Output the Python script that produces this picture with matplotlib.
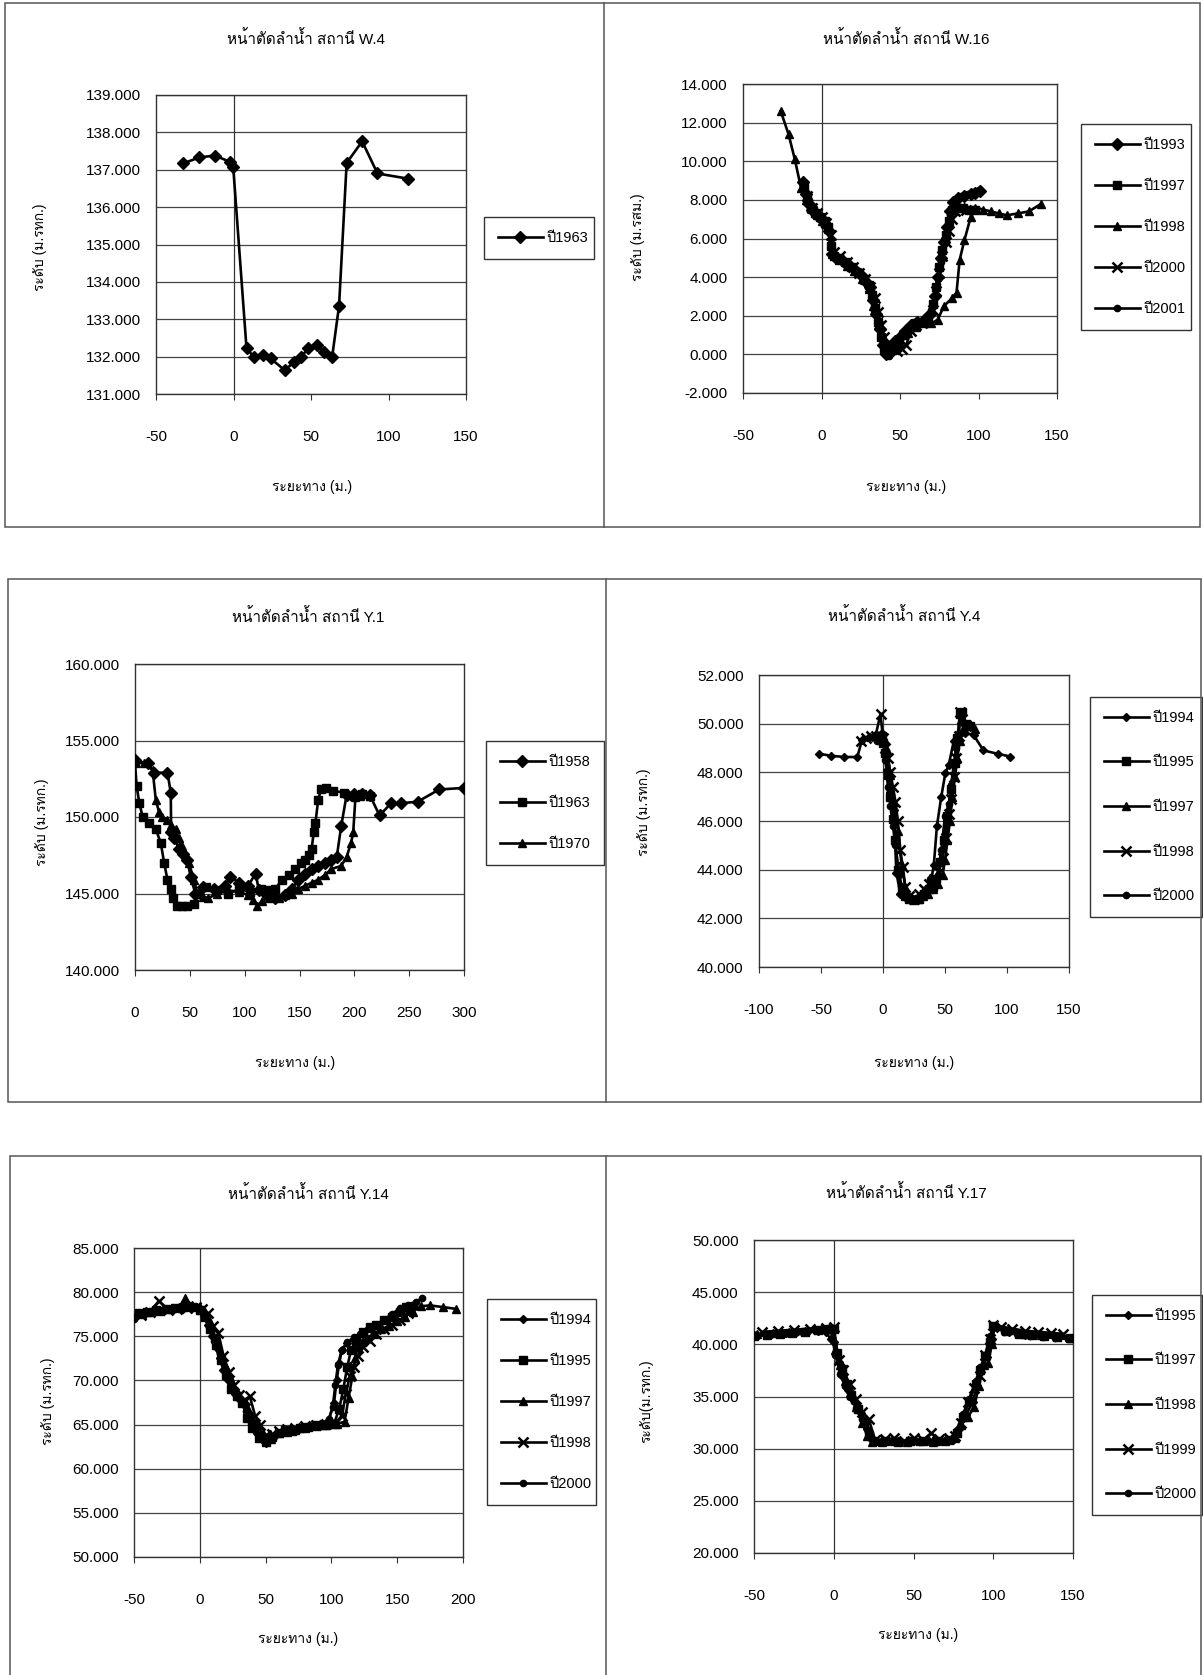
import numpy as np
import matplotlib
matplotlib.use('Agg')
import matplotlib.pyplot as plt
from matplotlib import font_manager
from matplotlib.ft2font import FT2Font
from matplotlib.patches import Rectangle
from matplotlib.lines import Line2D

W, H = 1203, 1675

# ---- data ----
# W.4
w4_1963_x = [-32.5, -22, -12, -2.2, -0.2, 8.4, 13.4, 18.9, 23.9, 33.3, 38.8, 43.7, 48.2, 53.7, 58.6, 63.6, 68.1, 73.0, 83.0, 92.9, 112.8]
w4_1963_y = [137.17, 137.33, 137.38, 137.21, 137.08, 132.22, 131.98, 132.04, 131.95, 131.63, 131.86, 132.00, 132.22, 132.31, 132.12, 131.98, 133.36, 137.18, 137.76, 136.90, 136.76]

# W.16
w16_1993_x = [-12, -10, -8, -6, -3, 0, 3, 5, 7, 9, 13, 17, 21, 25, 28, 31, 33, 35, 37, 39, 41, 44, 47, 50, 53, 57, 61, 65, 69, 72, 74, 76, 78, 80, 82, 84, 87, 91, 95, 98, 101]
w16_1993_y = [8.9, 8.3, 7.8, 7.5, 7.2, 7.0, 6.7, 6.4, 5.2, 5.0, 4.9, 4.7, 4.4, 4.1, 3.8, 3.5, 2.8, 2.1, 1.3, 0.5, 0.0, 0.4, 0.7, 0.9, 1.2, 1.5, 1.7, 1.8, 2.1, 3.0, 4.0, 5.0, 5.8, 6.6, 7.4, 7.9, 8.1, 8.2, 8.3, 8.35, 8.45]
w16_1997_x = [-11, -9, -7, -4, -1, 2, 4, 6, 8, 11, 15, 19, 23, 27, 30, 32, 34, 36, 38, 40, 43, 46, 49, 52, 56, 60, 64, 68, 71, 73, 75, 77, 79, 81, 83, 86, 90, 94, 98]
w16_1997_y = [8.6, 8.1, 7.6, 7.3, 7.1, 6.9, 6.6, 5.6, 5.1, 5.0, 4.8, 4.5, 4.2, 3.9, 3.6, 3.1, 2.4, 1.7, 0.9, 0.3, 0.2, 0.5, 0.6, 1.0, 1.3, 1.6, 1.7, 1.9, 2.6, 3.5, 4.5, 5.4, 6.2, 6.9, 7.5, 7.6, 7.6, 7.5, 7.5]
w16_1998_x = [-26, -21, -17, -13, -10, -7, -3, 0, 4, 7, 11, 16, 21, 26, 30, 33, 36, 39, 42, 46, 50, 55, 60, 65, 70, 74, 78, 83, 86, 88, 91, 95, 98, 103, 108, 113, 118, 125, 132, 140]
w16_1998_y = [12.6, 11.4, 10.1, 8.6, 8.0, 7.6, 7.2, 6.9, 6.5, 5.2, 4.9, 4.6, 4.3, 3.9, 3.4, 2.5, 1.5, 0.7, 0.3, 0.5, 0.6, 1.1, 1.4, 1.6, 1.6, 1.8, 2.5, 2.9, 3.2, 4.9, 5.9, 7.1, 7.6, 7.5, 7.4, 7.3, 7.2, 7.3, 7.4, 7.8]
w16_2000_x = [-12, -9, -6, -3, 0, 3, 6, 8, 12, 16, 20, 24, 28, 31, 34, 36, 38, 40, 42, 45, 48, 51, 54, 57, 60, 64, 68, 71, 73, 75, 77, 79, 81, 83, 85, 88, 92]
w16_2000_y = [8.7, 8.2, 7.6, 7.3, 7.1, 6.8, 6.2, 5.3, 5.1, 4.8, 4.5, 4.2, 3.9, 3.5, 2.9, 2.2, 1.5, 0.9, 0.5, 0.3, 0.2, 0.3, 0.5, 1.2, 1.5, 1.6, 1.8, 2.3, 3.3, 4.2, 5.1, 5.8, 6.4, 7.0, 7.4, 7.6, 7.5]
w16_2001_x = [-11, -8, -5, -2, 1, 4, 6, 8, 12, 16, 20, 24, 27, 30, 33, 35, 37, 39, 41, 43, 46, 49, 52, 55, 59, 63, 67, 70, 72, 74, 76, 78, 80, 82, 84, 86, 89, 93, 97, 100]
w16_2001_y = [8.8, 8.0, 7.6, 7.3, 7.0, 6.7, 6.0, 5.2, 5.0, 4.8, 4.5, 4.3, 3.9, 3.6, 3.0, 2.3, 1.6, 0.8, 0.1, -0.1, 0.5, 0.8, 1.1, 1.4, 1.6, 1.7, 1.9, 2.3, 3.0, 3.9, 4.8, 5.7, 6.5, 7.2, 7.6, 8.0, 8.2, 8.3, 8.4, 8.5]

# Y.1
y1_1958_x = [0, 11.5, 17.5, 29.6, 32.6, 33, 36, 40, 44, 47.7, 50.7, 55, 62, 72, 82, 87, 95, 103, 110, 113, 120, 128, 137, 143, 149, 155, 161, 167, 173, 179, 184, 188, 193, 200, 207, 214, 223, 233.5, 242.6, 257.7, 277.5, 300]
y1_1958_y = [153.7, 153.5, 152.9, 152.9, 151.6, 149.0, 148.6, 147.9, 147.6, 147.2, 146.1, 145.0, 145.4, 145.3, 145.5, 146.1, 145.7, 145.5, 146.3, 145.2, 144.9, 144.7, 144.9, 145.3, 145.9, 146.3, 146.6, 146.8, 147.0, 147.2, 147.4, 149.4, 151.45, 151.5, 151.5, 151.45, 150.1, 150.9, 150.9, 151.0, 151.8, 151.9]
y1_1963_x = [0, 1.5, 4, 7, 13, 19, 23.5, 26.6, 29.6, 32.6, 35, 38.7, 43, 47.7, 53.8, 58.3, 65, 75, 85, 95, 105, 115, 122, 128, 134, 140, 146, 151, 155, 159, 161, 163, 164.5, 167, 169.5, 174.6, 180.7, 191, 200, 207, 214]
y1_1963_y = [153.5, 152.0, 150.9, 150.0, 149.6, 149.2, 148.3, 147.0, 145.9, 145.3, 144.7, 144.2, 144.2, 144.2, 144.3, 145.0, 145.4, 145.2, 145.0, 145.3, 145.1, 145.3, 145.2, 145.3, 145.9, 146.2, 146.6, 147.0, 147.2, 147.5, 147.9, 149.0, 149.6, 151.1, 151.8, 151.9, 151.7, 151.6, 151.4, 151.5, 151.4]
y1_1970_x = [0, 8.5, 16, 19, 22, 25, 29.6, 33, 37, 40, 43, 46, 49, 53.8, 56.8, 62, 67, 75, 85, 95, 103, 108, 111, 116, 122, 131, 137, 143, 149, 155, 161, 167, 173, 179, 188, 193, 197, 199, 201, 205, 210, 214]
y1_1970_y = [153.6, 153.5, 153.1, 151.1, 150.3, 150.0, 149.8, 149.5, 149.2, 148.6, 148.1, 147.6, 147.0, 145.9, 145.0, 144.8, 144.7, 145.0, 145.2, 145.1, 144.9, 144.6, 144.2, 144.5, 144.7, 144.7, 144.9, 145.0, 145.3, 145.5, 145.7, 145.9, 146.2, 146.6, 146.8, 147.4, 148.3, 149.0, 151.3, 151.4, 151.5, 151.4]

# Y.4
y4_1994_x = [-51.3, -41.7, -31.2, -20.7, -16.9, -11.6, -4.8, -0.8, 1.9, 3.2, 5.9, 8.6, 10.8, 14, 18, 22, 26, 30, 34, 38, 41, 43.5, 47, 50.3, 53, 57, 61, 66.4, 73, 81, 92.7, 102.7]
y4_1994_y = [48.76, 48.68, 48.63, 48.63, 49.34, 49.47, 49.54, 49.6, 49.2, 48.1, 47.2, 46.47, 43.87, 43.0, 42.9, 42.8, 42.8, 42.9, 43.0, 43.3, 44.2, 45.8, 47.0, 47.97, 48.3, 49.27, 49.54, 49.6, 49.54, 48.9, 48.76, 48.65]
y4_1995_x = [-4, -1, 0, 2, 4, 6, 8, 10, 12, 15, 18, 21, 25, 29, 33, 37, 40, 43, 46, 49, 52, 55, 58, 60, 62, 64, 67, 70]
y4_1995_y = [49.4, 49.5, 49.2, 48.8, 47.9, 47.0, 46.1, 45.2, 44.0, 43.2, 42.9, 42.8, 42.75, 42.8, 43.0, 43.2, 43.3, 43.6, 44.3, 45.2, 46.2, 47.3, 48.4, 49.4, 50.4, 50.5, 50.0, 49.9]
y4_1997_x = [-3, 0, 3, 6, 9, 12, 15, 18, 21, 24, 28, 32, 36, 40, 44, 48, 50, 52, 54, 56, 58, 60, 62, 64, 67, 70, 74]
y4_1997_y = [49.4, 49.3, 48.9, 47.9, 46.8, 45.6, 44.2, 43.3, 42.9, 42.8, 42.8, 42.9, 43.0, 43.2, 43.4, 43.8, 44.4, 45.2, 46.0, 47.0, 47.8, 48.6, 49.3, 49.7, 50.0, 50.0, 49.8]
y4_1998_x = [-18, -14, -10, -6, -2, 0, 2, 4, 6, 8, 10, 12, 14, 16, 18, 21, 25, 29, 33, 37, 41, 45, 48, 51, 53, 55, 57, 59, 61, 62, 64, 67]
y4_1998_y = [49.3, 49.4, 49.5, 49.5, 50.4, 49.4, 49.0, 48.6, 48.0, 47.4, 46.8, 46.0, 44.8, 44.1, 43.3, 42.9, 42.8, 43.0, 43.2, 43.4, 43.6, 43.9, 44.5, 45.3, 46.3, 46.9, 47.8, 48.6, 49.5, 50.5, 50.2, 49.9]
y4_2000_x = [-5, -2, 0, 2, 4, 6, 8, 10, 13, 16, 20, 24, 28, 32, 35, 38, 41, 44, 47, 50, 53, 55, 57, 59, 61, 63, 65]
y4_2000_y = [49.3, 49.5, 49.3, 48.5, 47.4, 46.6, 45.8, 45.0, 43.8, 43.1, 42.8, 42.8, 42.85, 43.0, 43.2, 43.6, 43.3, 43.8, 44.8, 46.2, 46.7, 47.5, 48.3, 49.0, 49.6, 50.5, 50.0]

# Y.14
y14_1994_x = [-49, -42, -35, -28, -21, -14, -7, 0, 3, 6, 9, 12, 15, 18, 21, 24, 27, 30, 34, 38, 42, 46, 50, 55, 60, 66, 72, 78, 85, 92, 98, 102, 104, 106, 108, 112, 118, 124, 130, 136, 142, 148, 153, 158, 162]
y14_1994_y = [77.2, 77.6, 77.9, 78.0, 78.1, 78.2, 78.3, 78.0, 77.4, 76.3, 75.0, 73.8, 72.5, 71.2, 70.2, 69.2, 68.5, 67.9, 67.2, 66.0, 64.8, 63.6, 62.9, 63.5, 64.0, 64.3, 64.4, 64.6, 64.8, 65.0, 65.5, 67.5, 70.0, 72.0, 73.5, 74.2, 74.8, 75.3, 75.8, 76.2, 76.8, 77.4, 77.9, 78.2, 78.4]
y14_1995_x = [-46, -40, -33, -26, -19, -12, -5, 0, 4, 8, 12, 16, 20, 24, 28, 32, 36, 40, 45, 50, 55, 60, 65, 70, 76, 82, 88, 95, 102, 106, 109, 112, 115, 119, 124, 129, 134, 140, 146, 152, 157]
y14_1995_y = [77.6, 77.8, 78.0, 78.1, 78.2, 78.3, 78.3, 78.0, 77.2, 75.8, 74.0, 72.3, 70.6, 69.0, 68.2, 67.5, 65.8, 64.6, 63.5, 63.0, 63.6, 64.1, 64.4, 64.3, 64.6, 64.7, 64.9, 65.0, 65.1, 66.8, 69.0, 71.5, 73.5, 74.5, 75.5, 76.0, 76.3, 76.8, 77.2, 77.8, 78.3]
y14_1997_x = [-44, -37, -30, -23, -16, -11, -6, 0, 4, 8, 12, 16, 20, 24, 28, 32, 36, 40, 44, 48, 54, 60, 66, 72, 80, 88, 96, 104, 110, 113, 116, 118, 120, 123, 127, 132, 138, 144, 150, 156, 162, 168, 175, 185, 195]
y14_1997_y = [77.5, 77.7, 77.9, 78.1, 78.3, 79.3, 78.5, 78.3, 77.8, 76.6, 74.8, 73.0, 71.5, 70.0, 68.8, 67.8, 67.0, 65.8, 64.6, 63.8, 63.4, 64.0, 64.2, 64.4, 64.6, 64.8, 65.0, 65.1, 65.3, 68.0, 70.5, 72.5, 73.8, 74.3, 74.8, 75.3, 75.8, 76.2, 76.7, 77.2, 77.8, 78.4, 78.5, 78.3, 78.1]
y14_1998_x = [-45, -38, -31, -24, -17, -10, -3, 2, 6, 10, 14, 18, 22, 26, 30, 34, 38, 42, 46, 50, 55, 60, 66, 72, 80, 88, 96, 103, 108, 111, 114, 117, 120, 124, 129, 134, 140, 146, 152, 158]
y14_1998_y = [77.4, 77.8, 79.0, 78.0, 78.1, 78.2, 78.3, 78.1, 77.6, 76.2, 75.4, 72.8, 71.0, 69.5, 68.4, 67.8, 68.2, 66.0, 65.0, 63.8, 63.9, 64.3, 64.5, 64.6, 64.8, 64.9, 65.1, 65.2, 66.0, 68.5, 70.5, 71.5, 72.8, 73.8, 74.5, 75.3, 75.8, 76.3, 76.8, 77.6]
y14_2000_x = [-50, -43, -36, -29, -22, -15, -8, -1, 3, 7, 11, 15, 19, 23, 27, 31, 35, 39, 43, 48, 53, 58, 64, 70, 77, 84, 91, 98, 101, 103, 105, 108, 112, 117, 122, 128, 134, 140, 146, 152, 158, 164, 169]
y14_2000_y = [77.0, 77.5, 77.8, 78.0, 78.1, 78.3, 78.4, 78.2, 77.5, 76.0, 74.5, 73.0, 71.3, 70.0, 68.6, 67.8, 66.5, 65.2, 64.2, 63.2, 63.4, 63.9, 64.2, 64.4, 64.6, 64.8, 65.0, 65.6, 67.0, 69.5, 71.8, 73.5, 74.3, 74.9, 75.3, 75.8, 76.3, 76.9, 77.5, 78.2, 78.6, 78.9, 79.3]

# Y.17
y17_1995_x = [-50, -40, -30, -20, -10, -5, -2, 0, 3, 6, 9, 13, 17, 21, 24, 30, 40, 50, 60, 70, 75, 79, 83, 87, 90, 93, 96, 99, 100, 110, 120, 130, 140, 150]
y17_1995_y = [40.9, 41.0, 41.1, 41.2, 41.3, 41.2, 40.5, 40.2, 38.3, 36.9, 35.6, 34.6, 33.4, 31.9, 30.8, 30.7, 30.7, 30.7, 30.7, 30.7, 30.8, 32.0, 33.2, 34.5, 36.0, 37.8, 38.8, 40.5, 41.6, 41.2, 40.9, 40.8, 40.7, 40.6]
y17_1997_x = [-50, -42, -34, -26, -18, -10, -3, 0, 2, 5, 8, 11, 15, 19, 22, 25, 32, 40, 48, 56, 64, 72, 77, 81, 85, 89, 92, 95, 98, 100, 108, 116, 124, 132, 140, 148]
y17_1997_y = [40.8, 40.9, 41.0, 41.1, 41.2, 41.4, 41.5, 41.5, 39.2, 37.6, 36.2, 35.1, 33.8, 32.6, 31.3, 30.7, 30.7, 30.6, 30.7, 30.7, 30.7, 30.8, 31.5, 33.0, 34.5, 36.2, 37.5, 38.9, 40.2, 41.8, 41.3, 41.0, 40.9, 40.8, 40.7, 40.6]
y17_1998_x = [-48, -38, -28, -18, -8, -1, 1, 4, 7, 10, 14, 18, 21, 24, 30, 38, 46, 54, 62, 70, 76, 80, 84, 88, 91, 94, 97, 99, 101, 110, 120, 130, 140, 150]
y17_1998_y = [41.0, 41.1, 41.2, 41.3, 41.5, 41.6, 39.5, 38.0, 36.5, 35.3, 34.0, 32.5, 31.2, 30.6, 30.6, 30.7, 30.6, 30.7, 30.6, 30.7, 31.0, 32.3, 33.0, 34.0, 36.0, 38.0, 38.2, 40.0, 41.8, 41.4, 41.0, 40.9, 40.8, 40.6]
y17_1999_x = [-45, -35, -25, -15, -5, 0, 3, 6, 10, 14, 18, 22, 26, 32, 38, 44, 50, 56, 61, 66, 72, 76, 80, 84, 88, 92, 95, 98, 100, 105, 112, 120, 128, 136, 144]
y17_1999_y = [41.2, 41.3, 41.4, 41.5, 41.6, 41.7, 38.5, 37.5, 36.2, 34.8, 33.5, 32.8, 30.8, 30.9, 31.0, 30.7, 31.0, 30.8, 31.5, 30.9, 31.0, 31.2, 32.5, 34.5, 35.8, 37.0, 39.0, 40.5, 41.9, 41.7, 41.5, 41.3, 41.2, 41.1, 41.0]
y17_2000_x = [-48, -40, -32, -24, -16, -8, -2, 1, 4, 7, 10, 14, 18, 22, 25, 31, 38, 45, 52, 59, 66, 73, 77, 81, 85, 89, 92, 95, 98, 100, 107, 115, 123, 131, 139, 147]
y17_2000_y = [40.8, 40.9, 41.0, 41.1, 41.3, 41.4, 41.5, 39.0, 37.2, 36.0, 35.0, 33.9, 32.8, 31.5, 30.8, 30.7, 30.7, 30.6, 30.7, 30.7, 30.7, 30.8, 31.8, 33.3, 34.8, 36.5, 37.8, 39.0, 40.8, 41.7, 41.2, 41.0, 40.8, 40.7, 40.6, 40.5]


def find_thai_font():
    # first installed font that has Thai glyphs
    for f in font_manager.fontManager.ttflist:
        try:
            if 0x0E2B in FT2Font(f.fname).get_charmap():
                return f.name
        except Exception:
            continue
    return None


families = ['Liberation Sans']
thai = find_thai_font()
if thai:
    families.append(thai)
families.append('DejaVu Sans')
plt.rcParams['font.family'] = families
plt.rcParams['axes.unicode_minus'] = False

MARKERS = {
    'D': dict(marker='D', ms=6),
    'd': dict(marker='D', ms=4.2),
    's': dict(marker='s', ms=5.2),
    '^': dict(marker='^', ms=5.5),
    'x': dict(marker='x', ms=7, mew=1.8),
    'o': dict(marker='o', ms=4.5),
}

fig = plt.figure(figsize=(W / 100, H / 100), dpi=100)


def fig_xy(x, y):
    return x / W, 1 - y / H


def frame(l, t, r, b, mid):
    fig.add_artist(Rectangle(fig_xy(l, b), (r - l) / W, (b - t) / H, transform=fig.transFigure,
                             fill=False, ec='#555555', lw=1.1))
    fig.add_artist(Line2D([mid / W, mid / W], [1 - t / H, 1 - b / H], transform=fig.transFigure,
                          color='#555555', lw=1.1))


def panel(box, series, xlim, xstep, ylim, ystep, title, title_xy, xlabel_xy,
          ylabel, ylabel_xy, leg_box, leg_space):
    l, t, r, b = box
    ax = fig.add_axes([l / W, 1 - b / H, (r - l) / W, (b - t) / H])
    for xs, ys, label, m in series:
        ax.plot(xs, ys, color='black', lw=1.9, label=label, zorder=3, **MARKERS[m])
    ax.set_xlim(*xlim)
    ax.set_ylim(*ylim)
    ax.set_xticks(np.arange(xlim[0], xlim[1] + 1, xstep))
    ax.set_yticks(np.arange(ylim[0], ylim[1] + 0.001, ystep))
    ax.yaxis.set_major_formatter(matplotlib.ticker.FormatStrFormatter('%.3f'))
    ax.xaxis.set_major_formatter(matplotlib.ticker.FormatStrFormatter('%d'))
    ax.tick_params(axis='x', labelsize=11, length=4, direction='out', pad=22, color='#333333')
    ax.tick_params(axis='y', labelsize=11, length=0, pad=11)
    ax.grid(axis='y', color='#444444', lw=0.9)
    ax.set_axisbelow(True)
    if xlim[0] < 0:
        ax.axvline(0, color='#333333', lw=0.9, zorder=1)
    for s in ax.spines.values():
        s.set_color('#333333')
        s.set_linewidth(1.0)

    fig.text(*fig_xy(*title_xy), title, ha='center', va='center', fontsize=11)
    fig.text(*fig_xy(*xlabel_xy), 'ระยะทาง (ม.)', ha='center', va='center', fontsize=10)
    fig.text(*fig_xy(*ylabel_xy), ylabel, ha='center', va='center', fontsize=10, rotation=90)

    ll, lt, lr, lb = leg_box
    leg = ax.legend(loc='upper left', bbox_to_anchor=(ll / W, 1 - lb / H, (lr - ll) / W, (lb - lt) / H),
                    bbox_transform=fig.transFigure, mode='expand', fontsize=10.5, numpoints=1,
                    frameon=True, fancybox=False, framealpha=1, borderpad=0.95,
                    labelspacing=leg_space, handlelength=3.1, handletextpad=0.2,
                    borderaxespad=0)
    leg.get_frame().set_edgecolor('#333333')
    leg.get_frame().set_linewidth(1.0)
    return ax


# panel frames
frame(5, 3, 1200, 527, 604)
frame(8, 579, 1201, 1102, 606)
frame(10, 1156, 1201, 1690, 606)

panel((156, 95, 466, 394),
      [(w4_1963_x, w4_1963_y, 'ปี1963', 'D')],
      (-50, 150), 50, (131, 139), 1,
      'หน้าตัดลำน้ำ สถานี W.4', (306, 39), (312, 487),
      'ระดับ (ม.รทก.)', (40, 247), (484, 217, 594, 259), 1.8)

panel((743, 84, 1057, 393),
      [(w16_1993_x, w16_1993_y, 'ปี1993', 'D'),
       (w16_1997_x, w16_1997_y, 'ปี1997', 's'),
       (w16_1998_x, w16_1998_y, 'ปี1998', '^'),
       (w16_2000_x, w16_2000_y, 'ปี2000', 'x'),
       (w16_2001_x, w16_2001_y, 'ปี2001', 'o')],
      (-50, 150), 50, (-2, 14), 2,
      'หน้าตัดลำน้ำ สถานี W.16', (906, 39), (906, 487),
      'ระดับ (ม.รสม.)', (638, 237), (1081, 124, 1191, 331), 1.85)

panel((135, 664, 464, 970),
      [(y1_1958_x, y1_1958_y, 'ปี1958', 'D'),
       (y1_1963_x, y1_1963_y, 'ปี1963', 's'),
       (y1_1970_x, y1_1970_y, 'ปี1970', '^')],
      (0, 300), 50, (140, 160), 5,
      'หน้าตัดลำน้ำ สถานี Y.1', (308, 617), (295, 1063),
      'ระดับ (ม.รทก.)', (42, 822), (486, 741, 604, 866), 1.85)

panel((759, 675, 1069, 967),
      [(y4_1994_x, y4_1994_y, 'ปี1994', 'd'),
       (y4_1995_x, y4_1995_y, 'ปี1995', 's'),
       (y4_1997_x, y4_1997_y, 'ปี1997', '^'),
       (y4_1998_x, y4_1998_y, 'ปี1998', 'x'),
       (y4_2000_x, y4_2000_y, 'ปี2000', 'o')],
      (-100, 150), 50, (40, 52), 2,
      'หน้าตัดลำน้ำ สถานี Y.4', (904, 616), (914, 1063),
      'ระดับ (ม.รทก.)', (644, 812), (1090, 697, 1202, 919), 2.1)

panel((134, 1248, 463, 1557),
      [(y14_1994_x, y14_1994_y, 'ปี1994', 'd'),
       (y14_1995_x, y14_1995_y, 'ปี1995', 's'),
       (y14_1997_x, y14_1997_y, 'ปี1997', '^'),
       (y14_1998_x, y14_1998_y, 'ปี1998', 'x'),
       (y14_2000_x, y14_2000_y, 'ปี2000', 'o')],
      (-50, 200), 50, (50, 85), 5,
      'หน้าตัดลำน้ำ สถานี Y.14', (308, 1194), (298, 1639),
      'ระดับ (ม.รทก.)', (48, 1401), (487, 1299, 596, 1506), 1.85)

panel((754, 1240, 1073, 1553),
      [(y17_1995_x, y17_1995_y, 'ปี1995', 'd'),
       (y17_1997_x, y17_1997_y, 'ปี1997', 's'),
       (y17_1998_x, y17_1998_y, 'ปี1998', '^'),
       (y17_1999_x, y17_1999_y, 'ปี1999', 'x'),
       (y17_2000_x, y17_2000_y, 'ปี2000', 'o')],
      (-50, 150), 50, (20, 50), 5,
      'หน้าตัดลำน้ำ สถานี Y.17', (906, 1193), (918, 1635),
      'ระดับ(ม.รทก.)', (646, 1401), (1092, 1295, 1202, 1515), 2.1)

fig.savefig('out.png', dpi=100)
